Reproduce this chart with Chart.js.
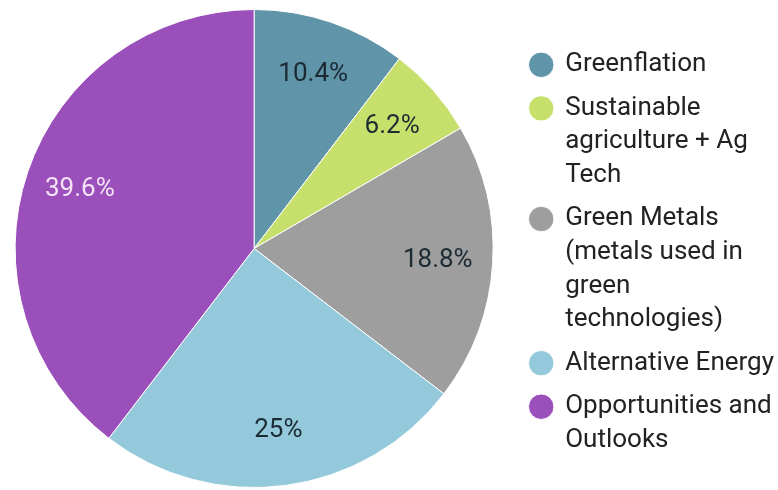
<!DOCTYPE html>
<html lang="en">
<head>
  <meta charset="UTF-8">
  <title>Theme Breakdown</title>
  <script src="https://cdn.jsdelivr.net/npm/chart.js"></script>
  <style>
    html, body { margin: 0; padding: 0; background: #fff; overflow: hidden; }
    /* canvas sits a bit past the left edge so the pie lands further left */
    .wrap { width: 790px; height: 490px; position: relative; left: -12px; }
  </style>
</head>
<body>
<div class="wrap">
  <canvas id="pieChart"></canvas>
</div>

<script>
// slice names (multi-line legend text) and their share in percent
const labels = [
  ["Greenflation"],
  ["Sustainable", "agriculture + Ag", "Tech"],
  ["Green Metals", "(metals used in", "green", "technologies)"],
  ["Alternative Energy"],
  ["Opportunities and", "Outlooks"]
];
const shares = [10.4, 6.2, 18.8, 25, 39.6];
const colors = ["#5f94a9", "#c6e06b", "#9e9e9e", "#93c9da", "#9a4fbb"];
const labelColors = ["#1b2a33", "#1b2a33", "#1b2a33", "#1b2a33", "#f4e2f6"];

// writes the percentage inside each slice
const sliceLabels = {
  id: 'sliceLabels',
  afterDatasetsDraw(chart) {
    const ctx = chart.ctx;
    const meta = chart.getDatasetMeta(0);
    ctx.save();
    ctx.font = '26px Roboto';
    ctx.textAlign = 'center';
    ctx.textBaseline = 'middle';
    meta.data.forEach((arc, i) => {
      const p = arc.getProps(['x', 'y', 'startAngle', 'endAngle', 'outerRadius']);
      const mid = (p.startAngle + p.endAngle) / 2;
      const r = p.outerRadius * 0.77;
      ctx.fillStyle = labelColors[i];
      ctx.fillText(shares[i] + '%', p.x + Math.cos(mid) * r, p.y + Math.sin(mid) * r);
    });
    ctx.restore();
  }
};

new Chart(document.getElementById('pieChart'), {
  type: 'pie',
  data: {
    labels: labels,
    datasets: [{
      data: shares,
      backgroundColor: colors,
      borderColor: '#ffffff',
      borderWidth: 1
    }]
  },
  options: {
    responsive: true,
    maintainAspectRatio: false,
    animation: false,
    layout: { padding: { top: 9, bottom: 2, left: 0, right: -6 } },
    plugins: {
      tooltip: { enabled: false },
      legend: {
        position: 'right',
        // blank title just nudges the legend block down a bit
        title: { display: true, text: ' ', font: { size: 13 }, padding: 0 },
        labels: {
          usePointStyle: true,
          pointStyle: 'circle',
          boxWidth: 22,
          boxHeight: 18,
          padding: 10,
          color: '#222222',
          font: { family: 'Roboto', size: 26, lineHeight: 1.29 }
        }
      }
    }
  },
  plugins: [sliceLabels]
});
</script>
</body>
</html>
